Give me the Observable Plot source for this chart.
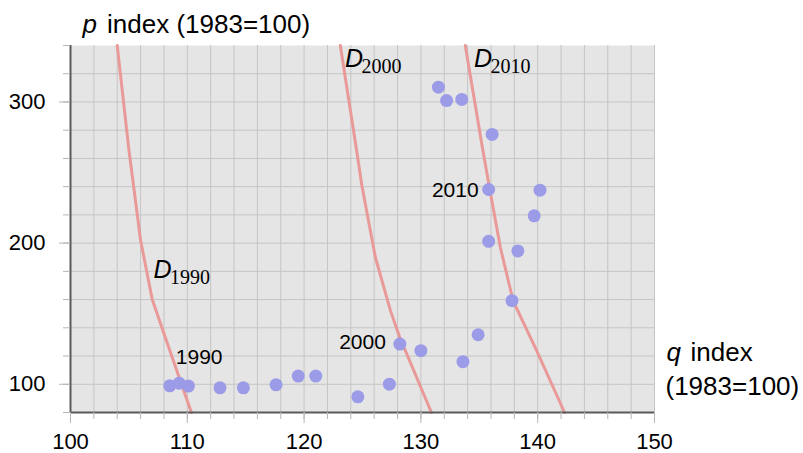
<!DOCTYPE html>
<html><head><meta charset="utf-8">
<script src="https://cdn.jsdelivr.net/npm/d3@7"></script>
<script src="https://cdn.jsdelivr.net/npm/@observablehq/plot@0.6"></script>
<style>body{margin:0;background:#fff;} #chart svg{display:block;}</style>
</head><body><div id="chart"></div>
<script>
// Observed points (quantity index q, price index p), 1983 = 100
const years  = [1990,1991,1992,1993,1994,1995,1996,1997,1998,1999,2000,2001,2002,2003,2004,2005,2006,2007,2008,2010,2011,2012,2013,2014];
const qIndex = [108.5,109.3,110.1,112.8,114.8,117.6,119.5,121.0,124.6,127.3,128.2,130.0,133.6,134.9,137.8,138.3,135.8,139.7,140.2,135.8,136.1,131.5,132.2,133.5];
const pIndex = [98.9,100.8,98.7,97.5,97.5,99.6,105.8,105.8,91.1,100.1,128.5,123.8,116.0,135.1,159.2,194.5,201.3,219.3,237.5,238.0,277.0,310.5,301.0,301.8];

// Year labels drawn next to points
const labelYears = [1990, 2000, 2010];

// Demand curves
const curveNames = ["1990", "2000", "2010"];
const d1990q = [104.0,105.0,106.0,107.0,108.0,109.0,110.35];
const d1990p = [340,266,202,160,136,112,80];
const d2000q = [123.1,124.5,124.95,126.1,127.4,128.2,130.9];
const d2000p = [340,265.5,240.7,190,152,133,80];
const d2010q = [133.8,135.3,135.9,136.8,137.9,139.9,142.3];
const d2010p = [340,266,238,197,159,124,80];

// Curve label anchor positions (data coordinates)
const curveLabelQ = [107.1, 123.5, 134.55];
const curveLabelP = [175.5, 325, 325];

// Axis ticks
const xMajor = [100,110,120,130,140,150];
const xMinor = d3.range(100, 151, 2);
const yMajor = [100,200,300];
const yMinor = d3.range(80, 341, 20);
const xGrid = d3.range(102, 151, 2);
const yGrid = d3.range(100, 321, 20);

const points = years.map((y, i) => ({year: y, q: qIndex[i], p: pIndex[i]}));
const curves = [
  ...d1990q.map((q, i) => ({name: "1990", q, p: d1990p[i]})),
  ...d2000q.map((q, i) => ({name: "2000", q, p: d2000p[i]})),
  ...d2010q.map((q, i) => ({name: "2010", q, p: d2010p[i]}))
];
const curveLabels = curveNames.map((n, i) => ({name: n, q: curveLabelQ[i], p: curveLabelP[i]}));
const yl = (yr) => points.find(d => d.year === yr);
const lab1990 = [yl(1990)], lab2000 = [yl(2000)], lab2010 = [yl(2010)];

const SANS = "Liberation Sans, Arial, Helvetica, sans-serif";
const SERIF = "Liberation Serif, Times New Roman, serif";
const GRID = "#c5c5c5";
const TICK = "#b5b5b5";

const plot = Plot.plot({
  width: 803, height: 453,
  marginLeft: 70, marginRight: 149, marginTop: 45, marginBottom: 41,
  x: {domain: [100, 150]},
  y: {domain: [80, 340]},
  style: {fontFamily: SANS, background: "#fff", overflow: "visible"},
  marks: [
    Plot.frame({fill: "#e5e5e5", stroke: null}),
    Plot.gridX(xGrid, {stroke: GRID, strokeOpacity: 1, strokeWidth: 1}),
    Plot.gridY(yGrid, {stroke: GRID, strokeOpacity: 1, strokeWidth: 1}),
    Plot.line(curves, {x: "q", y: "p", z: "name", stroke: "#e99a98", strokeWidth: 3}),
    Plot.dot(points, {x: "q", y: "p", r: 6.5, fill: "#9b9be8", stroke: null}),
    Plot.ruleX([100], {stroke: "#5a5a5a", strokeWidth: 2}),
    Plot.ruleY([80], {stroke: "#5a5a5a", strokeWidth: 2}),
    // minor ticks
    Plot.axisX(xMinor, {tickSize: 7, tickFormat: () => "", stroke: TICK, label: null}),
    Plot.axisY(yMinor, {tickSize: 7, tickFormat: () => "", stroke: TICK, label: null}),
    // major ticks
    Plot.axisX(xMajor, {tickSize: 11, tickPadding: 10, fontSize: 22, stroke: TICK, fill: "#000", label: null}),
    Plot.axisY(yMajor, {tickSize: 11, tickPadding: 14, fontSize: 22, stroke: TICK, fill: "#000", label: null}),
    // year labels
    Plot.text(lab1990, {x: "q", y: "p", text: d => String(d.year), textAnchor: "start", lineAnchor: "bottom", dx: 6, dy: -22, fontSize: 21, fill: "#000"}),
    Plot.text(lab2000, {x: "q", y: "p", text: d => String(d.year), textAnchor: "end", lineAnchor: "bottom", dx: -14, dy: 5, fontSize: 21, fill: "#000"}),
    Plot.text(lab2010, {x: "q", y: "p", text: d => String(d.year), textAnchor: "end", lineAnchor: "bottom", dx: -10, dy: 8, fontSize: 21, fill: "#000"}),
    // demand curve labels: D with serif subscript
    Plot.text(curveLabels, {x: "q", y: "p", text: () => "D", textAnchor: "start", lineAnchor: "bottom", fontSize: 25, fontStyle: "italic", fill: "#000"}),
    Plot.text(curveLabels, {x: "q", y: "p", text: "name", textAnchor: "start", lineAnchor: "bottom", dx: 16.5, dy: 6, fontSize: 20, fontFamily: SERIF, fill: "#000"}),
    // axis titles
    Plot.text(["p"], {frameAnchor: "top-left", textAnchor: "start", lineAnchor: "bottom", dx: 12, dy: -13, fontSize: 26, fontStyle: "italic", fill: "#000"}),
    Plot.text(["index (1983=100)"], {frameAnchor: "top-left", textAnchor: "start", lineAnchor: "bottom", dx: 36.5, dy: -13, fontSize: 26, fill: "#000"}),
    Plot.text(["q"], {frameAnchor: "bottom-right", textAnchor: "start", lineAnchor: "bottom", dx: 12, dy: -52, fontSize: 26, fontStyle: "italic", fill: "#000"}),
    Plot.text(["index"], {frameAnchor: "bottom-right", textAnchor: "start", lineAnchor: "bottom", dx: 36, dy: -52, fontSize: 26, fill: "#000"}),
    Plot.text(["(1983=100)"], {frameAnchor: "bottom-right", textAnchor: "start", lineAnchor: "bottom", dx: 11, dy: -18, fontSize: 26, fill: "#000"})
  ]
});
document.getElementById("chart").appendChild(plot);
</script>
</body></html>
